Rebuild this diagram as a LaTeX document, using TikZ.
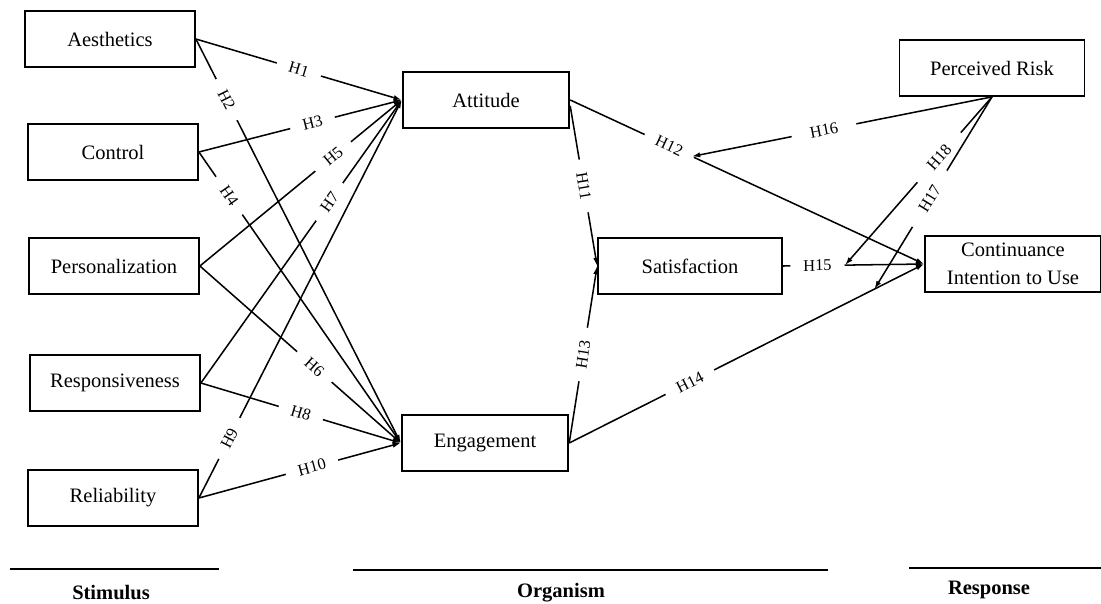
\documentclass[tikz,border=0pt]{standalone}
\usepackage{fontspec}
\setmainfont{Liberation Serif}
\usepackage{tikz}
\usetikzlibrary{arrows.meta,calc}

\begin{document}
\begin{tikzpicture}[x=0.03cm, y=-0.03cm]
	\tikzstyle{Construct}	= [draw, line width=1.5pt, minimum height=1.68cm, inner sep=2pt, align=center, font=\fontsize{17.5}{24}\selectfont]
	\tikzstyle{Path}	= [-{Latex[length=7pt,width=4.5pt]}, line width=1.3pt]
	\tikzstyle{Hyp}		= [fill=white, sloped, inner xsep=11pt, inner ysep=0.5pt, font=\fontsize{14}{14}\selectfont]
	\tikzstyle{Wide}	= [inner xsep=16pt]
	\tikzstyle{Stage}	= [font=\fontsize{17.5}{17.5}\selectfont\bfseries]
	\tikzstyle{Rule}	= [line width=1.5pt]

	\useasboundingbox (0,0) rectangle (1101,603);

	% stimulus
	\node (aes) at (110, 39) [Construct, minimum width=5.1cm] {Aesthetics};
	\node (ctrl) at (113, 152) [Construct, minimum width=5.1cm] {Control};
	\node (pers) at (114, 266) [Construct, minimum width=5.1cm] {Personalization};
	\node (resp) at (115, 383) [Construct, minimum width=5.1cm] {Responsiveness};
	\node (rel) at (113, 498) [Construct, minimum width=5.1cm] {Reliability};

	% organism
	\node (att) at (486, 100) [Construct, minimum width=5.0cm] {Attitude};
	\node (eng) at (485, 443) [Construct, minimum width=5.0cm] {Engagement};
	\node (sat) at (690, 266) [Construct, minimum width=5.52cm] {Satisfaction};

	% response
	\node (risk) at (992, 68) [Construct, minimum width=5.55cm] {Perceived Risk};
	\node (cont) at (1013, 264) [Construct, minimum width=5.28cm] {Continuance\\Intention to Use};

	\draw [Path] (aes.east) to node [Hyp, pos=0.5] {H1} (att.west);
	\draw [Path] (aes.east) to node [Hyp, pos=0.15] {H2} (eng.west);
	\draw [Path] (ctrl.east) to node [Hyp, pos=0.56] {H3} (att.west);
	\draw [Path] (ctrl.east) to node [Hyp, pos=0.15] {H4} (eng.west);
	\draw [Path] (pers.east) to node [Hyp, pos=0.66] {H5} (att.west);
	\draw [Path] (pers.east) to node [Hyp, pos=0.57] {H6} (eng.west);
	\draw [Path] (resp.east) to node [Hyp, pos=0.64] {H7} (att.west);
	\draw [Path] (resp.east) to node [Hyp, pos=0.5] {H8} (eng.west);
	\draw [Path] (rel.east) to node [Hyp, pos=0.15] {H9} (att.west);
	\draw [Path] (rel.east) to node [Hyp, pos=0.56] {H10} (eng.west);

	\draw [Path] ([yshift=-5pt]att.east) to node [Hyp, pos=0.5] {H11} (sat.west);
	\draw [Path] (eng.east) to node [Hyp, pos=0.5] {H13} (sat.west);
	\draw [Path] (att.east) to node [Hyp, pos=0.28] {H12} (cont.west);
	\draw [Path] (eng.east) to node [Hyp, pos=0.34] {H14} (cont.west);
	\draw [Path] (sat.east) to node [Hyp, pos=0.245] {H15} (cont.west);

	% moderation by risk
	\coordinate (m12) at ($(att.east)!0.344!(cont.west)$);
	\coordinate (m15) at ($(sat.east)!0.44!(cont.west)$);
	\coordinate (m14) at ($(eng.east)!0.86!(cont.west)$);
	\draw [Path] (risk.south) to node [Hyp, Wide, pos=0.56] {H16} (m12);
	\draw [Path] (risk.south) to node [Hyp, Wide, pos=0.36] {H18} (m15);
	\draw [Path] (risk.south) to node [Hyp, Wide, pos=0.53] {H17} (m14);

	% stages
	\draw [Rule] (10, 569) -- (219, 569);
	\draw [Rule] (353, 570) -- (828, 570);
	\draw [Rule] (909, 568) -- (1101, 568);
	\node (stim) at (111, 592) [Stage] {Stimulus};
	\node (org) at (561, 593) [Stage] {Organism};
	\node (res) at (989, 590) [Stage] {Response};
\end{tikzpicture}
\end{document}
